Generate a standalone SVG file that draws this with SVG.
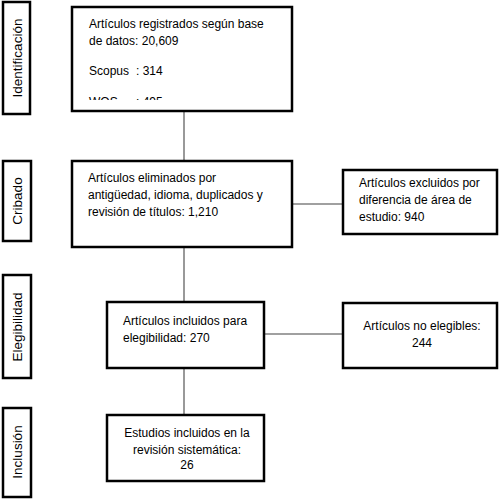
<svg xmlns="http://www.w3.org/2000/svg" width="501" height="499" viewBox="0 0 501 499">
<style>
.box{fill:#fff;stroke:#000;stroke-width:2.5}
.side{fill:#fff;stroke:#000;stroke-width:2.5}
.t{font-family:"Liberation Sans",Arial,sans-serif;font-size:12px;fill:#000}
.c{text-anchor:middle}
.s{font-family:"Liberation Sans",Arial,sans-serif;font-size:13.5px;fill:#000;text-anchor:middle}
.v{stroke:#999;stroke-width:2;fill:none}
.h{stroke:#808080;stroke-width:1.3;fill:none}
</style>
<defs>
<clipPath id="clip1"><rect x="72" y="7" width="220" height="93"/></clipPath>
</defs>
<g id="connectors">
<line class="v" x1="184" y1="111" x2="184" y2="161"/>
<line class="v" x1="184" y1="247" x2="184" y2="302"/>
<line class="v" x1="184" y1="368" x2="184" y2="415"/>
<line class="h" x1="292" y1="204" x2="343" y2="204"/>
<line class="h" x1="264" y1="334" x2="343" y2="334"/>
</g>
<g id="identificacion">
<rect class="side" x="3" y="2" width="27" height="112"/>
<text class="s" transform="translate(22,58) rotate(-90)">Identificación</text>
</g>
<g id="cribado">
<rect class="side" x="3" y="161" width="28" height="80"/>
<text class="s" transform="translate(22,201) rotate(-90)">Cribado</text>
</g>
<g id="elegibilidad">
<rect class="side" x="3" y="275" width="28" height="103"/>
<text class="s" transform="translate(22,327) rotate(-90)">Elegibilidad</text>
</g>
<g id="inclusion">
<rect class="side" x="3" y="408" width="28" height="89"/>
<text class="s" transform="translate(22,452) rotate(-90)">Inclusión</text>
</g>
<g id="registrados">
<rect class="box" x="72" y="7" width="220" height="104"/>
<text class="t" x="89" y="28">Artículos registrados según base</text>
<text class="t" x="89" y="45">de datos: 20,609</text>
<text class="t" x="89" y="75">Scopus</text>
<text class="t" x="136" y="75">: 314</text>
<g clip-path="url(#clip1)">
<text class="t" x="89" y="105.5">WOS</text>
<text class="t" x="136" y="105.5">: 495</text>
</g>
</g>
<g id="eliminados">
<rect class="box" x="72" y="161" width="220" height="86"/>
<text class="t" x="88" y="182">Artículos eliminados por</text>
<text class="t" x="88" y="199">antigüedad, idioma, duplicados y</text>
<text class="t" x="88" y="216">revisión de títulos: 1,210</text>
</g>
<g id="excluidos">
<rect class="box" x="343" y="170" width="154" height="64"/>
<text class="t" x="359" y="187">Artículos excluidos por</text>
<text class="t" x="359" y="204">diferencia de área de</text>
<text class="t" x="359" y="221">estudio: 940</text>
</g>
<g id="incluidos">
<rect class="box" x="107" y="302" width="157" height="66"/>
<text class="t" x="123" y="325">Artículos incluidos para</text>
<text class="t" x="123" y="342">elegibilidad: 270</text>
</g>
<g id="noelegibles">
<rect class="box" x="343" y="303" width="154" height="65"/>
<text class="t c" x="422" y="330">Artículos no elegibles:</text>
<text class="t c" x="422" y="347">244</text>
</g>
<g id="estudios">
<rect class="box" x="107" y="415" width="157" height="66"/>
<text class="t c" x="187" y="437">Estudios incluidos en la</text>
<text class="t c" x="187" y="454">revisión sistemática:</text>
<text class="t c" x="187" y="469">26</text>
</g>
</svg>
